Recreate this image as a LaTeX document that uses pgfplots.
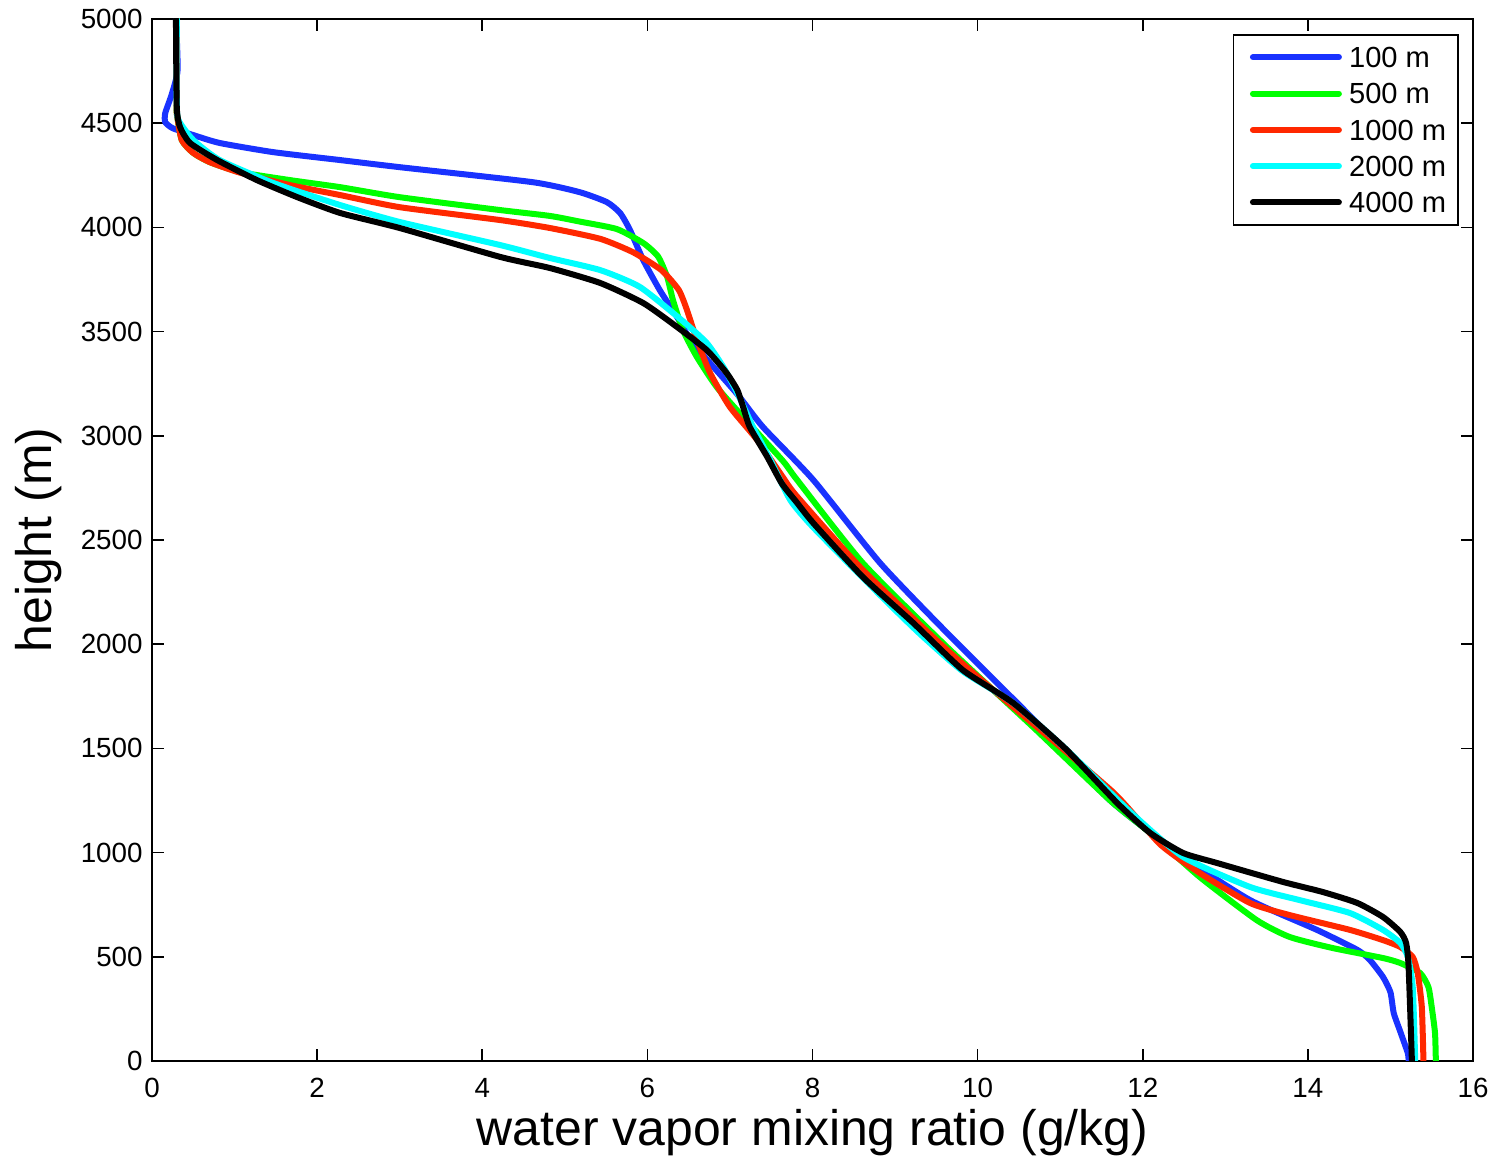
\documentclass[border=0pt]{standalone}
\usepackage{fontspec}
\setmainfont{Liberation Sans}
\usepackage{pgfplots}
\pgfplotsset{compat=1.18}
\definecolor{cBlue}{RGB}{25,50,255}
\definecolor{cGreen}{RGB}{0,255,0}
\definecolor{cRed}{RGB}{255,40,0}
\definecolor{cCyan}{RGB}{0,255,255}
\begin{document}
\begin{tikzpicture}
\begin{axis}[
  scale only axis,
  width=494.8pt, height=390.3pt,
  xmin=0, xmax=16, ymin=0, ymax=5000,
  xtick={0,2,...,16}, ytick={0,500,...,5000},
  scaled ticks=false,
  /pgf/number format/set thousands separator={},
  /pgf/number format/assume math mode=true,
  tick pos=both, tick align=inside,
  major tick length=4.5pt,
  axis line style={line width=0.8pt},
  every tick/.style={black, line width=0.6pt},
  ticklabel style={font=\fontsize{10.4}{12}\selectfont},
  xticklabel shift=3pt,
  xlabel={water vapor mixing ratio (g/kg)},
  ylabel={height (m)},
  xlabel style={font=\fontsize{18.7}{22}\selectfont, at={(axis description cs:0.5,-0.069)}, anchor=center},
  ylabel style={font=\fontsize{18.7}{22}\selectfont, at={(axis description cs:-0.0855,0.5)}, anchor=center, rotate=0},
  legend style={at={(axis description cs:0.9894,0.9856)}, anchor=north east,
    draw=black, line width=0.6pt, inner xsep=3.5pt, inner ysep=3.5pt,
    font=\fontsize{10.9}{12}\selectfont,
    nodes={inner sep=1pt, text height=7.8pt, text depth=0pt},
    row sep=3.8pt, column sep=1.7pt},
  legend cell align=left,
  legend image code/.code={\path (-2.6pt,0);\draw[line width=2.25pt] (0pt,0pt) -- (32.2pt,0pt);},
  every axis plot/.append style={line width=2.25pt, line join=round, line cap=round, smooth, tension=0.35},
]
\addplot[cBlue] coordinates {
(0.29,5000) (0.31,4755) (0.24,4640) (0.16,4548) (0.16,4505) (0.25,4476)
(0.50,4443) (0.82,4405) (1.47,4361) (2.28,4323) (3.00,4289) (4.61,4217)
(5.18,4169) (5.51,4121) (5.67,4069) (5.79,3987) (5.95,3843) (6.15,3699)
(6.36,3570) (6.55,3445) (7.08,3204) (7.40,3042) (8.01,2788) (8.82,2389)
(9.63,2054) (10.72,1622) (11.60,1252) (12.49,979) (13.30,772) (14.11,629)
(14.60,533) (14.75,485) (14.91,403) (15.00,330) (15.04,230) (15.12,140)
(15.21,38) (15.22,0)
};
\addlegendentry{100 m}
\addplot[cGreen] coordinates {
(0.30,5000) (0.30,4600) (0.30,4548) (0.36,4419) (0.50,4357) (0.70,4313)
(1.07,4265) (1.67,4227) (2.28,4193) (3.00,4145) (4.22,4083) (4.82,4055)
(5.18,4028) (5.63,3992) (5.95,3925) (6.13,3860) (6.24,3762) (6.31,3651)
(6.43,3507) (6.60,3378) (6.84,3234) (7.16,3090) (7.64,2880) (7.81,2790)
(8.61,2389) (9.63,1986) (10.67,1603) (11.60,1252) (12.09,1094) (12.69,883)
(13.38,676) (13.78,595) (14.30,542) (14.91,494) (15.12,470) (15.36,422)
(15.46,355) (15.50,259) (15.54,134) (15.55,0)
};
\addlegendentry{500 m}
\addplot[cRed] coordinates {
(0.30,5000) (0.30,4600) (0.30,4548) (0.36,4419) (0.50,4357) (0.70,4313)
(1.07,4262) (1.67,4203) (2.28,4155) (3.00,4097) (4.22,4035) (4.82,3997)
(5.43,3945) (5.83,3880) (6.17,3795) (6.38,3700) (6.48,3603) (6.60,3459)
(6.76,3301) (7.00,3138) (7.33,2980) (7.64,2802) (7.81,2710) (8.61,2356)
(9.63,1972) (10.43,1699) (11.64,1290) (12.21,1040) (12.69,902) (13.30,758)
(13.78,700) (14.51,629) (14.91,580) (15.12,547) (15.27,499) (15.33,422)
(15.38,259) (15.40,0)
};
\addlegendentry{1000 m}
\addplot[cCyan] coordinates {
(0.30,5000) (0.30,4600) (0.32,4515) (0.50,4419) (0.82,4323) (1.47,4213)
(2.28,4107) (3.00,4026) (4.22,3915) (4.82,3853) (5.43,3795) (5.91,3714)
(6.43,3550) (6.72,3445) (6.92,3330) (7.09,3205) (7.28,3042) (7.49,2884)
(7.73,2692) (8.01,2560) (8.82,2235) (9.30,2050) (9.82,1870) (10.43,1718)
(11.06,1500) (11.85,1195) (12.49,979) (13.30,835) (13.90,772) (14.51,710)
(14.91,629) (15.12,566) (15.21,499) (15.27,355) (15.30,0)
};
\addlegendentry{2000 m}
\addplot[black] coordinates {
(0.29,5000) (0.30,4577) (0.34,4481) (0.46,4405) (0.79,4323) (1.27,4227)
(1.76,4145) (2.28,4069) (3.00,3997) (4.22,3858) (4.82,3805) (5.43,3733)
(5.95,3637) (6.36,3522) (6.72,3411) (6.96,3301) (7.09,3219) (7.16,3138)
(7.24,3042) (7.45,2900) (7.63,2770) (7.81,2680) (8.01,2581) (8.61,2322)
(9.22,2102) (9.82,1876) (10.43,1718) (11.06,1500) (11.69,1238) (12.09,1094)
(12.49,998) (12.90,950) (13.70,859) (14.18,811) (14.60,758) (14.91,691)
(15.12,619) (15.19,566) (15.22,451) (15.26,0)
};
\addlegendentry{4000 m}
\end{axis}
\pgfresetboundingbox
\path ([shift={(-56.94pt,-37.46pt)}]current axis.south west) rectangle ([shift={(8.24pt,7.12pt)}]current axis.north east);
\end{tikzpicture}
\end{document}
